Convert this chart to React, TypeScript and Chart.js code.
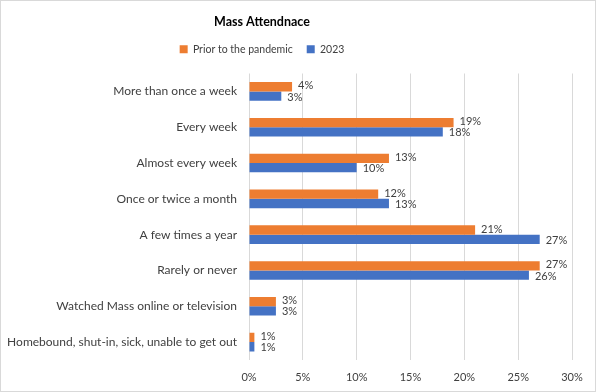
import React, { useEffect, useRef } from "react";
import { Chart, registerables } from "chart.js";
Chart.register(...registerables);

const categories = [
  "More than once a week",
  "Every week",
  "Almost every week",
  "Once or twice a month",
  "A few times a year",
  "Rarely or never",
  "Watched Mass online or television",
  "Homebound, shut-in, sick, unable to get out",
];
const priorValues = [4, 19, 13, 12, 21, 27, 2.5, 0.5];
const values2023 = [3, 18, 10, 13, 27, 26, 2.5, 0.5];
const seriesNames = ["Prior to the pandemic", "2023"];
const xTicks = [0, 5, 10, 15, 20, 25, 30];

const FONT = "Lato, 'Open Sans', sans-serif";
const TEXT = "#404040";

const labelPlugin = {
  id: "barLabels",
  afterDatasetsDraw(chart: any) {
    const ctx = chart.ctx;
    ctx.save();
    ctx.font = `11px ${FONT}`;
    ctx.fillStyle = TEXT;
    ctx.textBaseline = "middle";
    ctx.textAlign = "left";
    chart.data.datasets.forEach((ds: any, di: number) => {
      const meta = chart.getDatasetMeta(di);
      meta.data.forEach((bar: any, i: number) => {
        const v = ds.data[i];
        ctx.fillText(Math.round(v) + "%", bar.x + 6, bar.y + (di === 0 ? -1 : 1));
      });
    });
    ctx.restore();
  },
};

const shiftPlugin = {
  id: "shiftHeader",
  afterLayout(chart: any) {
    const dx = -24;
    const t = chart.titleBlock;
    if (t) { t.left += dx; t.right += dx; t.top += 2; t.bottom += 2; }
    const l = chart.legend;
    if (l) { l.left += dx; l.right += dx; l.top -= 9; l.bottom -= 9; }
  },
};

const borderPlugin = {
  id: "outerBorder",
  afterDraw(chart: any) {
    const ctx = chart.ctx;
    ctx.save();
    ctx.strokeStyle = "#d9d9d9";
    ctx.lineWidth = 1;
    ctx.strokeRect(0.5, 0.5, chart.width - 1, chart.height - 1);
    ctx.restore();
  },
};

export default function App() {
  const ref = useRef<HTMLCanvasElement>(null);
  useEffect(() => {
    document.body.style.margin = "0";
    const chart = new Chart(ref.current!, {
      type: "bar",
      data: {
        labels: categories,
        datasets: [
          { label: seriesNames[0], data: priorValues, backgroundColor: "#ED7D31", categoryPercentage: 0.52, barPercentage: 1 },
          { label: seriesNames[1], data: values2023, backgroundColor: "#4472C4", categoryPercentage: 0.52, barPercentage: 1 },
        ],
      },
      options: {
        indexAxis: "y",
        animation: false,
        responsive: false,
        maintainAspectRatio: false,
        layout: { padding: { left: 0, right: 24, top: 0, bottom: 0 } },
        plugins: {
          title: {
            display: true,
            text: "Mass Attendnace",
            color: "#000",
            font: { family: FONT, size: 12.5, weight: "bold" },
            padding: { top: 12, bottom: 12 },
          },
          legend: {
            display: true,
            labels: {
              color: TEXT,
              font: { family: FONT, size: 10.5 },
              boxWidth: 8,
              boxHeight: 8,
              padding: 14,
            },
          },
          tooltip: { enabled: false },
        },
        scales: {
          x: {
            min: 0,
            max: 30,
            afterBuildTicks(scale: any) {
              scale.ticks = xTicks.map((v) => ({ value: v }));
            },
            afterFit(scale: any) {
              scale.height = 32;
            },
            ticks: {
              color: TEXT,
              font: { family: FONT, size: 11 },
              callback: (v: any) => v + "%",
              padding: 11,
            },
            grid: { color: "#d9d9d9", drawTicks: false },
            border: { display: false },
          },
          y: {
            afterFit(scale: any) {
              scale.width = 249;
            },
            ticks: {
              color: TEXT,
              font: { family: FONT, size: 12 },
              padding: 12,
            },
            grid: { display: false, drawTicks: false },
            border: { display: false },
          },
        },
      },
      plugins: [labelPlugin, shiftPlugin, borderPlugin],
    });
    return () => chart.destroy();
  }, []);
  return <canvas ref={ref} width={596} height={392} style={{ display: "block" }} />;
}
